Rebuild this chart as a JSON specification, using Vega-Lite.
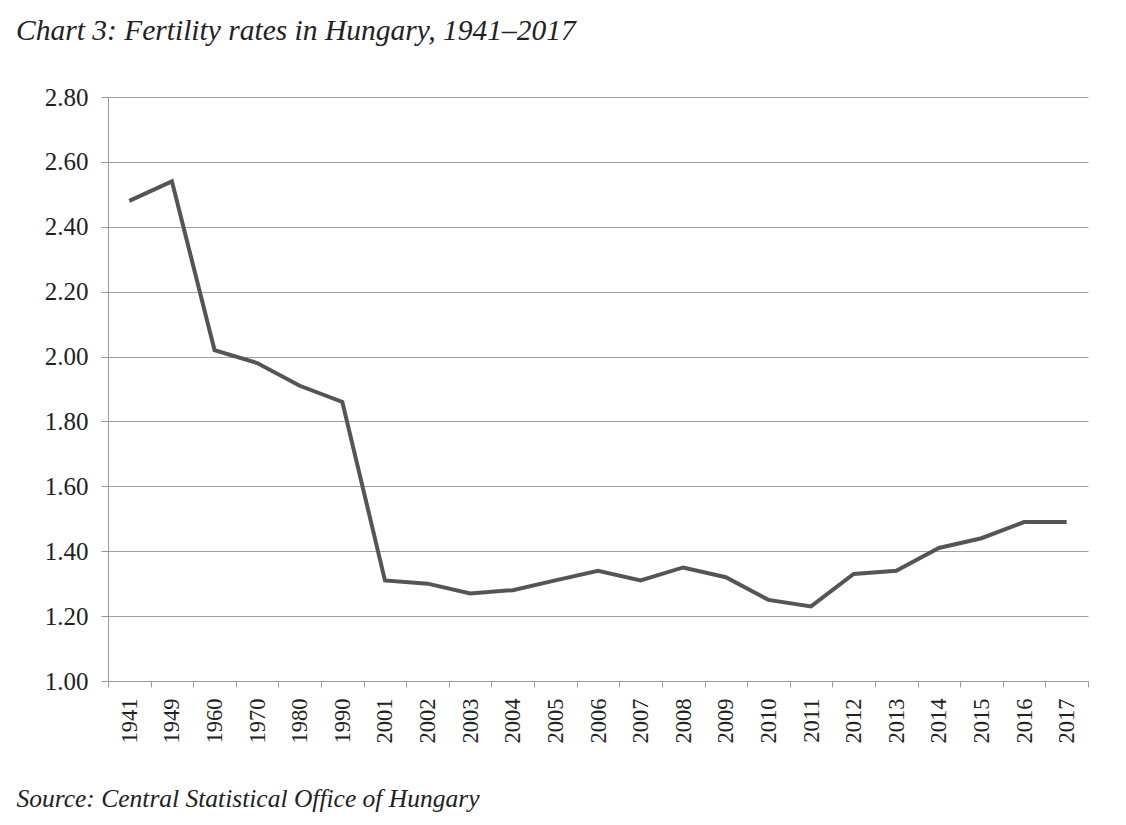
{
  "$schema": "https://vega.github.io/schema/vega-lite/v6.json",
  "autosize": {"type": "none"},
  "width": 980,
  "height": 584,
  "padding": {"left": 108, "top": 97, "right": 38, "bottom": 144},
  "background": "white",
  "title": {
    "text": "Chart 3: Fertility rates in Hungary, 1941–2017",
    "anchor": "start",
    "frame": "group",
    "dx": -92,
    "offset": 39,
    "font": "Liberation Serif",
    "fontStyle": "italic",
    "fontWeight": "normal",
    "fontSize": 29.5,
    "color": "#222"
  },
  "data": {
    "values": [
      {"year": "1941", "rate": 2.48},
      {"year": "1949", "rate": 2.54},
      {"year": "1960", "rate": 2.02},
      {"year": "1970", "rate": 1.98},
      {"year": "1980", "rate": 1.91},
      {"year": "1990", "rate": 1.86},
      {"year": "2001", "rate": 1.31},
      {"year": "2002", "rate": 1.30},
      {"year": "2003", "rate": 1.27},
      {"year": "2004", "rate": 1.28},
      {"year": "2005", "rate": 1.31},
      {"year": "2006", "rate": 1.34},
      {"year": "2007", "rate": 1.31},
      {"year": "2008", "rate": 1.35},
      {"year": "2009", "rate": 1.32},
      {"year": "2010", "rate": 1.25},
      {"year": "2011", "rate": 1.23},
      {"year": "2012", "rate": 1.33},
      {"year": "2013", "rate": 1.34},
      {"year": "2014", "rate": 1.41},
      {"year": "2015", "rate": 1.44},
      {"year": "2016", "rate": 1.49},
      {"year": "2017", "rate": 1.49}
    ]
  },
  "mark": {"type": "line", "color": "#555555", "strokeWidth": 4, "strokeJoin": "miter"},
  "encoding": {
    "x": {
      "field": "year",
      "type": "ordinal",
      "sort": null,
      "scale": {"type": "band", "paddingInner": 0, "paddingOuter": 0},
      "axis": {
        "title": "Source: Central Statistical Office of Hungary",
        "titleFont": "Liberation Serif",
        "titleFontStyle": "italic",
        "titleFontWeight": "normal",
        "titleFontSize": 25.5,
        "titleColor": "#222",
        "titleAlign": "left",
        "titleBaseline": "alphabetic",
        "titleX": -92,
        "titleY": 125,
        "labelAngle": -90,
        "labelFont": "Liberation Serif",
        "labelFontSize": 22.5,
        "labelColor": "#222",
        "labelPadding": 11,
        "tickBand": "extent",
        "tickSize": 6,
        "tickColor": "#999999",
        "domainColor": "#999999",
        "grid": false
      }
    },
    "y": {
      "field": "rate",
      "type": "quantitative",
      "scale": {"domain": [1, 2.8], "nice": false, "zero": false},
      "axis": {
        "title": null,
        "values": [1, 1.2, 1.4, 1.6, 1.8, 2, 2.2, 2.4, 2.6, 2.8],
        "format": ".2f",
        "labelFont": "Liberation Serif",
        "labelFontSize": 25,
        "labelColor": "#222",
        "labelPadding": 13,
        "tickSize": 7,
        "tickColor": "#999999",
        "domainColor": "#999999",
        "gridColor": "#a0a0a0",
        "grid": true
      }
    }
  },
  "config": {
    "view": {"stroke": null}
  }
}
